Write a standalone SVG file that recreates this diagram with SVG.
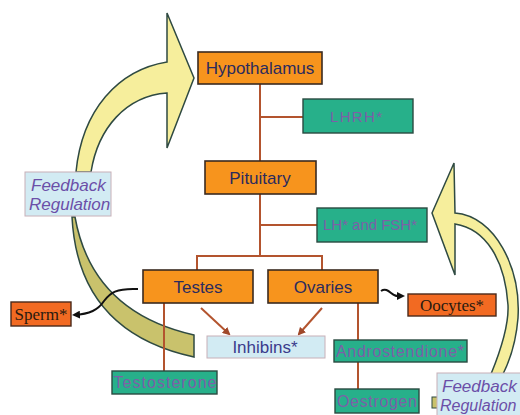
<svg xmlns="http://www.w3.org/2000/svg" width="520" height="415" viewBox="0 0 520 415">
<defs>
<style>
.org{fill:#f7941d;stroke:#3a2a20;stroke-width:1.6}
.grn{fill:#27b08a;stroke:#2a4a40;stroke-width:1.4}
.blu{fill:#d2ebf3;stroke:#c8b0b8;stroke-width:1}
.red{fill:#f26a22;stroke:#4a2a1a;stroke-width:1.4}
.t{font-family:"Liberation Sans",Arial,sans-serif;font-size:17px;fill:#2b2b5e;text-anchor:middle}
.tg{font-family:"Liberation Sans",Arial,sans-serif;font-size:15px;fill:#7d5fa8;text-anchor:middle}
.ts{font-family:"Liberation Serif","Times New Roman",serif;font-size:17px;fill:#2a1a10;text-anchor:middle}
.fb{font-family:"Liberation Sans",Arial,sans-serif;font-size:17px;font-style:italic;fill:#6b4fa8}
.ln{stroke:#b3542e;stroke-width:2;fill:none}
.arw{stroke:#2f4a42;stroke-width:1.5}
</style>
<marker id="ah" markerWidth="8" markerHeight="8" refX="6" refY="4" orient="auto" markerUnits="userSpaceOnUse">
<path d="M0,0 L8,4 L0,8 Z" fill="#111"/>
</marker>
<marker id="ahb" markerWidth="8" markerHeight="8" refX="6" refY="4" orient="auto" markerUnits="userSpaceOnUse">
<path d="M0,0 L8,4 L0,8 Z" fill="#a0482a"/>
</marker>
</defs>
<rect width="520" height="415" fill="#ffffff"/>

<g id="feedback-arrows">
<path class="arw" fill="#f6ee9c" d="M194,78 L167,13 L167,62 C 118,70 82,110 76,172 L91,172 C 98,128 126,96 167,93 L167,148 Z"/>
<path class="arw" fill="#c9c26c" d="M72,217 Q 78,332 194,357 L194,335 Q 92,312 75,217 Z"/>
<path class="arw" fill="#f6ee9c" d="M432,213 L454,163 L455,213 C 495,216 521,268 518,318 C 516,343 510,360 503,374 L491,374 C 500,352 509,325 508,305 C 505,260 486,229 455,224 L455,275 Z"/>
<rect x="432" y="397" width="6" height="11" fill="#c9c26c" stroke="#2f4a42" stroke-width="1"/>
</g>

<g id="connectors">
<path class="ln" d="M260,84 V161"/>
<path class="ln" d="M260,117 H303"/>
<path class="ln" d="M260,194 V256"/>
<path class="ln" d="M260,225 H317"/>
<path class="ln" d="M197,270 V256 H322 V270"/>
<path class="ln" d="M164,303 V371"/>
<path class="ln" d="M358,303 V340"/>
<path class="ln" d="M358,362 V389"/>
<path class="ln" d="M201,308 L229,334" marker-end="url(#ahb)"/>
<path class="ln" d="M322,308 L299,334" marker-end="url(#ahb)"/>
<path d="M138,289 C 116,288 110,293 104,301 C 98,310 90,314 74,315" stroke="#111" stroke-width="2" fill="none" marker-end="url(#ah)"/>
<path d="M381,291 C 388,286 392,297 398,296 L403,296" stroke="#111" stroke-width="2" fill="none" marker-end="url(#ah)"/>
</g>

<g id="hypothalamus"><rect class="org" x="198" y="52" width="124" height="32"/><text class="t" x="260" y="74">Hypothalamus</text></g>
<g id="lhrh"><rect class="grn" x="303" y="99" width="110" height="34"/><text class="tg" x="356" y="122" textLength="52">LHRH*</text></g>
<g id="pituitary"><rect class="org" x="205" y="161" width="111" height="33"/><text class="t" x="260" y="184">Pituitary</text></g>
<g id="lh-fsh"><rect class="grn" x="317" y="208" width="110" height="34"/><text class="tg" x="370" y="230" textLength="94">LH* and FSH*</text></g>
<g id="testes"><rect class="org" x="143" y="270" width="110" height="33"/><text class="t" x="198" y="293">Testes</text></g>
<g id="ovaries"><rect class="org" x="268" y="270" width="110" height="33"/><text class="t" x="323" y="293">Ovaries</text></g>
<g id="sperm"><rect class="red" x="11" y="302" width="60" height="24"/><text class="ts" x="41" y="320">Sperm*</text></g>
<g id="oocytes"><rect class="red" x="408" y="294" width="88" height="22"/><text class="ts" x="452" y="311">Oocytes*</text></g>
<g id="inhibins"><rect class="blu" x="207" y="336" width="118" height="22"/><text class="t" x="265" y="353" style="fill:#3b3b8c">Inhibins*</text></g>
<g id="androstendione"><rect class="grn" x="334" y="340" width="133" height="22"/><text class="tg" x="400" y="357" textLength="128" style="font-size:16px">Androstendione*</text></g>
<g id="testosterone"><rect class="grn" x="112" y="371" width="105" height="23"/><text class="tg" x="165" y="388" textLength="103" style="font-size:16px">Testosterone</text></g>
<g id="oestrogen"><rect class="grn" x="335" y="389" width="84" height="24"/><text class="tg" x="377" y="407" textLength="80" style="font-size:16px">Oestrogen</text></g>
<g id="feedback-left"><rect class="blu" x="25" y="172" width="86" height="44"/><text class="fb" x="31" y="191">Feedback</text><text class="fb" x="29" y="210">Regulation</text></g>
<g id="feedback-right"><rect class="blu" x="437" y="373" width="90" height="44"/><text class="fb" x="442" y="392">Feedback</text><text class="fb" x="440" y="411" style="font-size:16px">Regulation</text></g>
</svg>
